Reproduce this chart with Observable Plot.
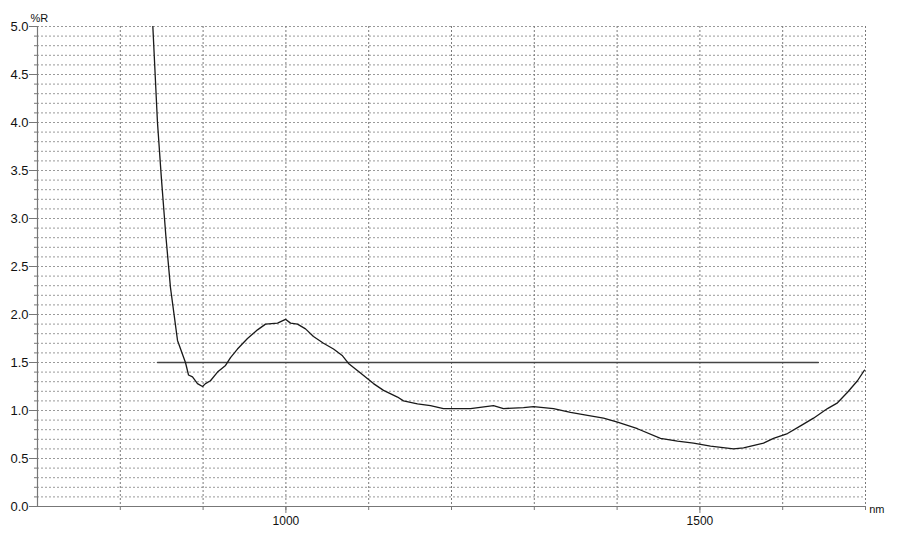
<!DOCTYPE html>
<html>
<head>
<meta charset="utf-8">
<script src="https://cdn.jsdelivr.net/npm/d3@7"></script>
<script src="https://cdn.jsdelivr.net/npm/@observablehq/plot@0.6"></script>
<style>
  html, body { margin: 0; padding: 0; background: #fff; }
  #chart svg { display: block; }
</style>
</head>
<body>
<div id="chart"></div>
<script>
// Wavelength (nm) of the measured reflectance curve
const wavelength = [839.3, 844.9, 849.8, 855.0, 860.6, 869.1, 878.7, 882.4, 887.2, 893.2, 899.3,
  902.9, 908.9, 917.4, 927.1, 933.1, 941.5, 953.6, 965.7, 975.4, 989.9,
  999.5, 1005.6, 1014.0, 1023.7, 1033.3, 1045.4, 1057.5, 1068.4, 1075.6, 1090.1,
  1105.8, 1117.9, 1134.8, 1142.0, 1158.9, 1174.6, 1190.3, 1207.2, 1223.0, 1250.7,
  1262.8, 1287.0, 1299.0, 1323.2, 1343.7, 1364.3, 1383.6, 1400.5, 1424.6, 1452.4,
  1472.9, 1492.3, 1512.8, 1540.6, 1552.7, 1576.8, 1588.9, 1605.8, 1621.5, 1637.2,
  1654.1, 1666.2, 1678.3, 1690.3, 1698.8];
// Reflectance (%R)
const reflectance = [5.00, 4.00, 3.40, 2.82, 2.28, 1.73, 1.50, 1.37, 1.35, 1.28, 1.25,
  1.28, 1.31, 1.40, 1.47, 1.55, 1.64, 1.75, 1.84, 1.90, 1.91,
  1.95, 1.91, 1.90, 1.85, 1.77, 1.70, 1.64, 1.57, 1.49, 1.39,
  1.28, 1.21, 1.14, 1.10, 1.07, 1.05, 1.02, 1.02, 1.02, 1.05,
  1.02, 1.03, 1.04, 1.02, 0.98, 0.95, 0.92, 0.88, 0.81, 0.71,
  0.68, 0.66, 0.63, 0.60, 0.61, 0.66, 0.71, 0.76, 0.84, 0.92,
  1.02, 1.08, 1.19, 1.31, 1.42];
// Reference (target) line
const refWavelength = [845, 1643];
const refValue = [1.5, 1.5];
// Axis settings
const xDomain = [700, 1700];
const yDomain = [0, 5];
const xTickLabels = [1000, 1500];
const yTickLabels = [0, 0.5, 1.0, 1.5, 2.0, 2.5, 3.0, 3.5, 4.0, 4.5, 5.0];

const curve = wavelength.map((w, i) => ({x: w, y: reflectance[i]}));
const ref = refWavelength.map((w, i) => ({x: w, y: refValue[i]}));
const xGrid = d3.range(xDomain[0] + 100, xDomain[1] + 1, 100);
const yMinor = d3.range(1, 51).map(d => d / 10);

const font = "'Liberation Sans', Arial, sans-serif";

const chart = Plot.plot({
  width: 900,
  height: 540,
  marginLeft: 37,
  marginRight: 35,
  marginTop: 26,
  marginBottom: 34,
  style: {fontFamily: font, fontSize: "12px", color: "#111", background: "#fff"},
  x: {domain: xDomain, label: null},
  y: {domain: yDomain, label: null},
  marks: [
    Plot.ruleY(yMinor, {stroke: "#9a9a9a", strokeDasharray: "2,2", strokeWidth: 1}),
    Plot.ruleX(xGrid, {stroke: "#7a7a7a", strokeDasharray: "2,2", strokeWidth: 1}),
    Plot.ruleY([yDomain[0]], {stroke: "#777", strokeWidth: 1.2}),
    Plot.ruleX([xDomain[0]], {stroke: "#777", strokeWidth: 1.2}),
    Plot.axisY(yMinor, {tickSize: 3, tickFormat: () => "", stroke: "#777"}),
    Plot.axisY(yTickLabels, {tickSize: 8, tickPadding: 1, stroke: "#777",
      tickFormat: d => d.toFixed(1), fontSize: 13, letterSpacing: "1px"}),
    Plot.axisX(xGrid, {tickSize: 4, tickFormat: () => "", stroke: "#777"}),
    Plot.axisX(xTickLabels, {tickSize: 7, tickPadding: 3, stroke: "#777",
      tickFormat: d => String(d), fontSize: 12}),
    Plot.line(ref, {x: "x", y: "y", stroke: "#444", strokeWidth: 1.6}),
    Plot.line(curve, {x: "x", y: "y", stroke: "#1a1a1a", strokeWidth: 1.3, curve: "linear", clip: true}),
    Plot.text(["%R"], {frameAnchor: "top-left", dx: -7, dy: -12, fontSize: 11, fill: "#111"}),
    Plot.text(["nm"], {frameAnchor: "bottom-right", dx: 19, dy: 6, fontSize: 11, fill: "#111"})
  ]
});
document.getElementById("chart").appendChild(chart);
</script>
</body>
</html>
